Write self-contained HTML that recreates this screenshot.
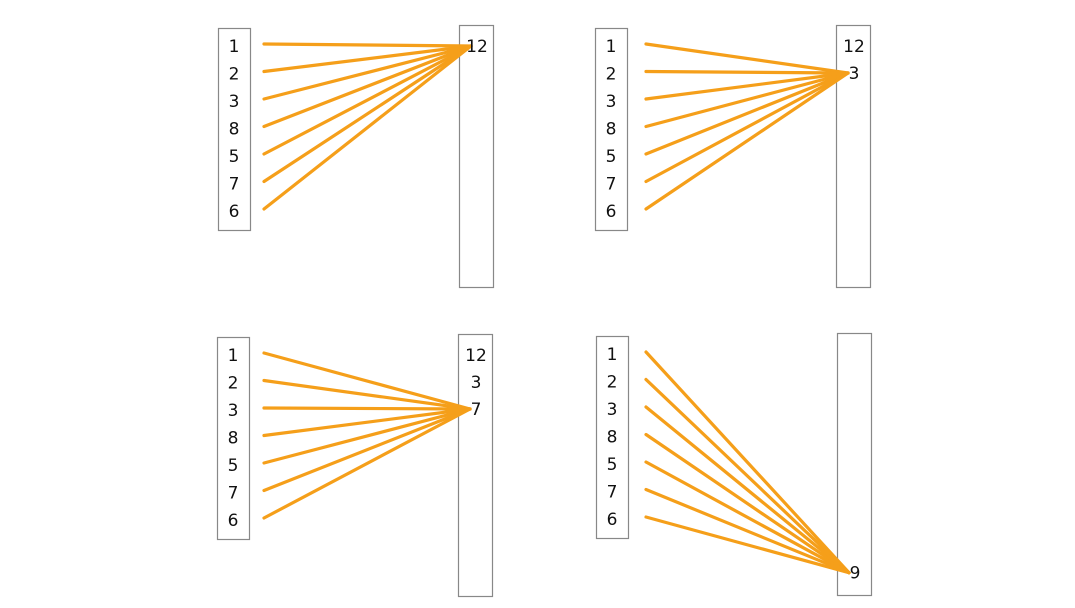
<!DOCTYPE html>
<html><head><meta charset="utf-8"><style>
html,body{margin:0;padding:0;background:#fff;overflow:hidden;}
svg{display:block;font-family:"DejaVu Sans","Liberation Sans",sans-serif;}
</style></head><body>
<svg id="c" width="1075" height="608" viewBox="0 0 1075 608"></svg>
<script>
const leftLabels = ["1","2","3","8","5","7","6"];
const rightLabels = [["12"],["12","3"],["12","3","7"],["9"]];
const rightRows = [[0],[0,1],[0,1,2],[8.1]];
const panelOrigins = [[218,28],[595,28],[217,337],[596,336]];
const startOffsets = [46,51,47,50];
const NS="http://www.w3.org/2000/svg";
const svg=document.getElementById('c');
function mk(t,a,p){const e=document.createElementNS(NS,t);for(const k in a)e.setAttribute(k,a[k]);(p||svg).appendChild(e);return e;}
const rowY=(oy,i)=>oy+18+i*27.5;
const rRowY=(oy,i)=>oy+18+i*27;
panelOrigins.forEach((o,p)=>{
  const ox=o[0],oy=o[1];
  const g=mk('g',{});
  
  
  const lb=mk('rect',{x:ox+0.5,y:oy+0.5,width:32,height:202,fill:'none',stroke:'#888','stroke-width':1.2},g);
  
  
  const rb=mk('rect',{x:ox+241.5,y:oy-2.5,width:34,height:262,fill:'none',stroke:'#888','stroke-width':1.2},g);
  
  
  const rows=rightRows[p];
  const ty=rRowY(oy,rows[rows.length-1]);
  const tx=ox+253;
  leftLabels.forEach((l,i)=>{
    const y=rowY(oy,i);
    const ln=mk('line',{x1:ox+startOffsets[p],y1:y-2,x2:tx,y2:ty,stroke:'#f59f1a','stroke-width':3.2,'stroke-linecap':'round'},g);
    
    
  });
  leftLabels.forEach((l,i)=>{
    const t=mk('text',{x:ox+16,y:rowY(oy,i)+6,'text-anchor':'middle','font-size':17,fill:'#111'},g);
    t.textContent=l;
    
    
  });
  rightLabels[p].forEach((l,i)=>{
    const t=mk('text',{x:ox+259,y:rRowY(oy,rows[i])+6,'text-anchor':'middle','font-size':17,fill:'#111'},g);
    t.textContent=l;
    
    
  });
});
</script>
</body></html>
